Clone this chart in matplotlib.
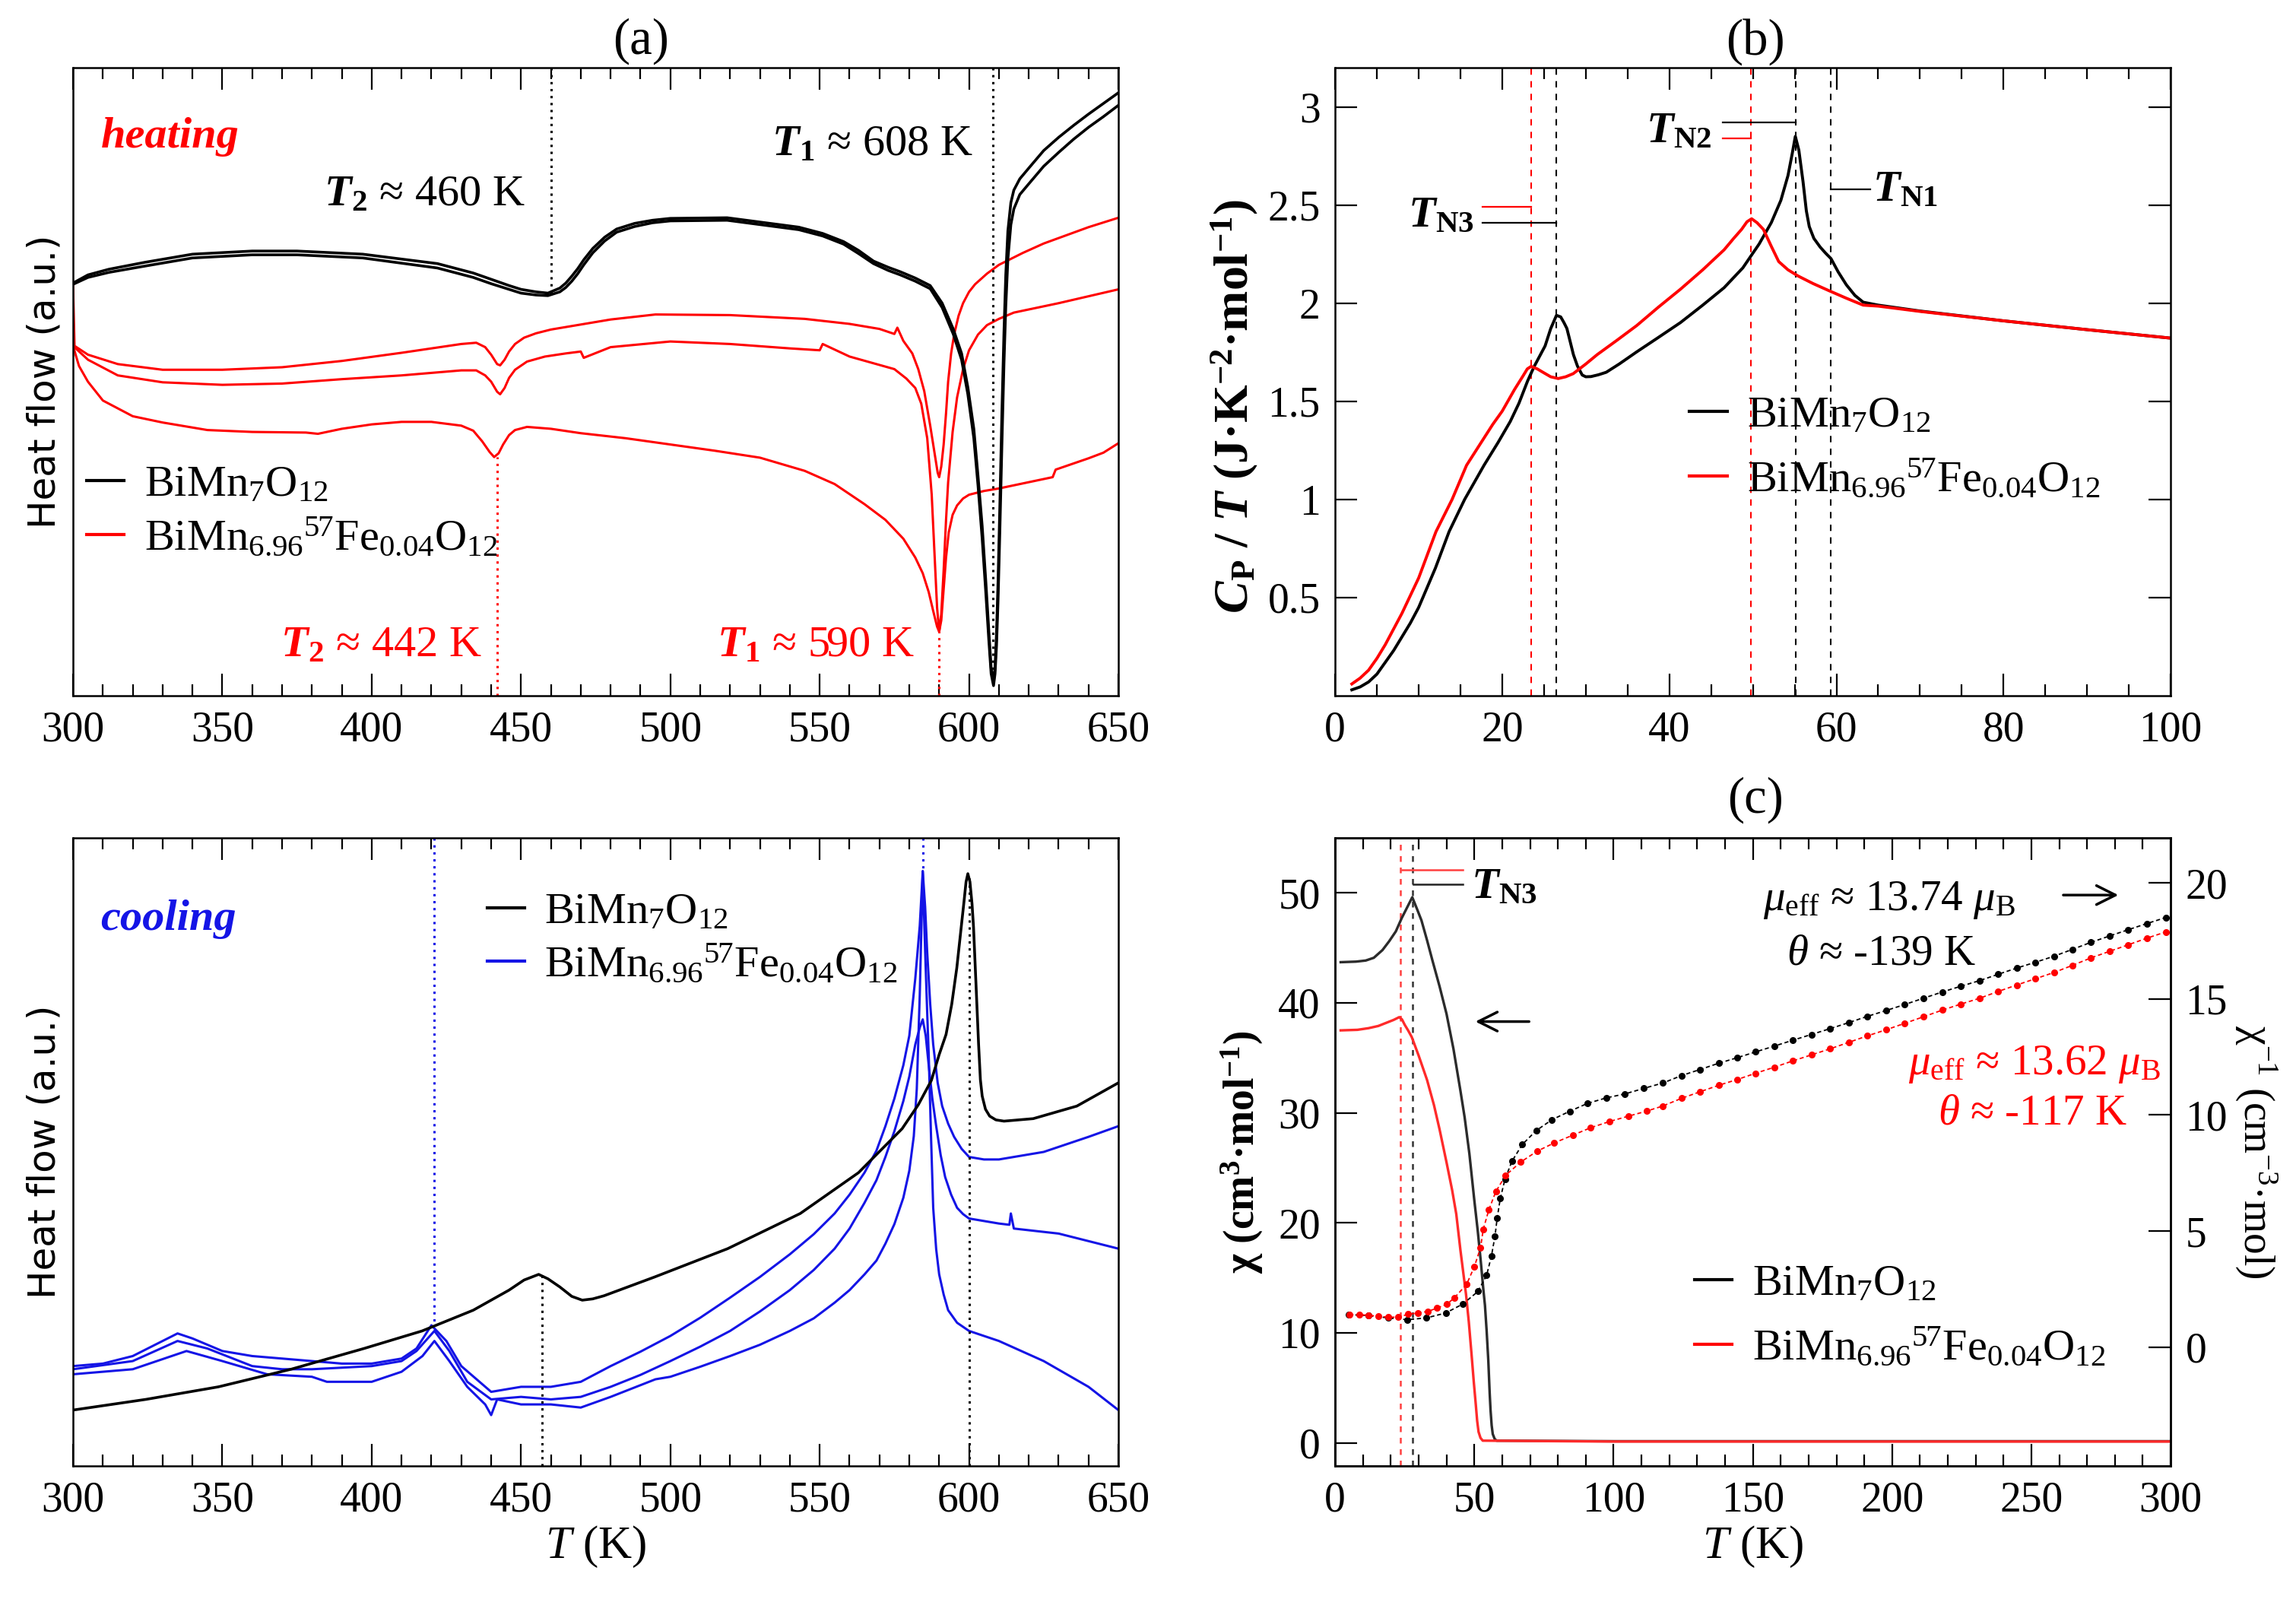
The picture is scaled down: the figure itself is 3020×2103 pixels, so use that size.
import matplotlib
matplotlib.use('Agg')
import matplotlib.pyplot as plt
from matplotlib.ticker import FixedLocator, MultipleLocator, NullLocator

rc = {
    'font.family': ['Liberation Serif', 'DejaVu Serif'],
    'mathtext.fontset': 'custom',
    'mathtext.rm': 'Liberation Serif',
    'mathtext.it': 'Liberation Serif:italic',
    'mathtext.bf': 'Liberation Serif:bold',
    'mathtext.default': 'rm',
    'axes.linewidth': 1.8,
}
plt.rcParams.update(rc)
try:
    plt.rcParams['mathtext.bfit'] = 'Liberation Serif:italic:bold'
except KeyError:
    pass

# ---------------- data: (a) heating DSC ----------------
T_a_blk = [300, 305, 312, 324, 340, 360, 375, 397, 422, 434, 440, 446, 450, 455, 459, 463, 465, 467,
           469, 471, 474, 478, 482, 488, 494, 500, 519, 543, 551, 558, 563, 568, 573, 577, 582, 587,
           591, 594.7, 597.5, 599.6, 601.6, 603, 604.4, 605.6, 606.6, 607.4, 608.2, 608.7, 609.2, 609.7,
           610.3, 611, 611.7, 612.3, 613, 614, 615, 617, 620, 625, 630, 635, 640, 645, 650]
hf_a_blk1 = [65.7, 67.0, 67.9, 69.0, 70.3, 70.8, 70.8, 70.3, 68.8, 67.3, 66.3, 65.3, 64.7, 64.3, 64.1,
             64.9, 65.7, 66.8, 68.0, 69.4, 71.2, 73.0, 74.3, 75.2, 75.7, 76.0, 76.1, 74.6, 73.6, 72.3,
             70.9, 69.2, 68.2, 67.5, 66.5, 65.3, 62.5, 58.4, 54.5, 49.1, 42.5, 35.0, 27.0, 18.3, 10.5,
             4.4, 2.1, 4.5, 10.0, 18.0, 30.0, 45.0, 58.0, 67.0, 74.0, 78.5, 80.5, 82.3, 84.0, 86.8,
             88.9, 90.8, 92.6, 94.3, 96.0]
hf_a_blk2 = [65.5, 66.6, 67.4, 68.4, 69.7, 70.2, 70.2, 69.7, 68.1, 66.6, 65.6, 64.7, 64.1, 63.8, 63.7,
             64.3, 65.0, 66.0, 67.2, 68.6, 70.5, 72.4, 73.8, 74.7, 75.3, 75.6, 75.7, 74.2, 73.2, 71.9,
             70.4, 68.8, 67.7, 67.0, 66.0, 64.8, 61.8, 57.6, 53.5, 48.0, 41.0, 33.5, 25.0, 16.5, 9.0,
             3.5, 1.6, 3.5, 8.0, 15.0, 26.0, 40.0, 53.0, 62.0, 69.5, 75.0, 77.5, 79.8, 81.5, 84.3, 86.5,
             88.6, 90.5, 92.2, 94.0]
T_a_red1 = [300, 300.5, 305, 315, 330, 350, 370, 390, 410, 430, 435, 438, 440, 442, 443, 444.5, 446,
            448, 451, 455, 460, 480, 495, 520, 545, 560, 570, 575, 576, 578, 581, 583, 585, 587, 588.5,
            589.5, 590, 590.7, 591.5, 592.3, 593, 594, 595, 596.5, 598, 600, 602, 606, 610, 618, 625,
            640, 650]
hf_a_red1 = [65.5, 55.7, 54.3, 52.8, 51.9, 51.9, 52.3, 53.3, 54.6, 56.0, 56.2, 55.5, 54.3, 52.8, 52.6,
             53.5, 54.8, 56.0, 57.0, 57.7, 58.3, 59.9, 60.7, 60.6, 60.0, 59.2, 58.4, 57.6, 58.6, 56.5,
             54.5, 52.0, 48.5, 43.0, 38.5, 35.5, 34.8, 36.5, 40.0, 45.0, 50.0, 54.5, 57.5, 60.5, 62.5,
             64.3, 65.5, 67.2, 68.6, 70.5, 72.0, 74.6, 76.1]
T_a_red2 = [300, 305, 315, 330, 350, 370, 390, 410, 430, 435, 438, 440, 442, 443, 444.5, 446, 448, 452,
            458, 465, 470, 471, 480, 500, 520, 540, 550, 551, 560, 575, 579, 582, 584, 586, 587.5, 588.5,
            589.3, 590, 590.7, 591.5, 592.3, 593, 594.5, 596, 598, 600, 603, 606, 610, 615, 630, 650]
hf_a_red2 = [55.7, 53.5, 51.0, 49.9, 49.5, 49.7, 50.4, 51.0, 51.8, 51.8, 51.0, 50.0, 48.4, 48.0, 49.0,
             50.6, 51.9, 53.2, 54.0, 54.5, 54.8, 53.8, 55.5, 56.4, 56.0, 55.3, 55.0, 56.0, 54.0, 52.0,
             50.5, 49.0, 46.5, 41.0, 32.0, 22.0, 14.0, 10.2, 13.0, 20.0, 28.0, 34.0, 42.0, 47.5, 52.0,
             55.0, 57.5, 59.0, 60.0, 61.0, 62.5, 64.7]
T_a_red3 = [300, 302, 305, 310, 320, 330, 345, 360, 378, 382, 390, 400, 410, 420, 430, 434, 437, 439.5,
            441, 442.5, 444, 446, 448, 452, 460, 470, 485, 500, 515, 530, 545, 555, 565, 572, 578, 582,
            584.5, 586.5, 588, 589.3, 590, 590.7, 591.5, 592.3, 593.2, 594.5, 596, 598, 600, 605, 610,
            620, 628, 629, 640, 645, 650]
hf_a_red3 = [55.7, 52.5, 50.0, 47.0, 44.5, 43.5, 42.3, 42.0, 41.9, 41.7, 42.5, 43.2, 43.6, 43.6, 43.0,
             42.2, 40.5, 38.8, 38.0, 38.6, 40.0, 41.5, 42.3, 42.8, 42.5, 41.8, 41.0, 40.0, 39.0, 37.9,
             35.8, 33.7, 30.5, 28.0, 25.0, 22.0, 19.5, 16.5, 13.5, 11.0, 10.2, 12.0, 17.0, 22.0, 26.0,
             28.8, 30.3, 31.4, 32.0, 32.6, 33.0, 34.0, 34.8, 36.0, 37.8, 38.7, 40.2]

# ---------------- data: (d) cooling DSC ----------------
T_d_blk = [300, 324.4, 348.7, 373, 397.4, 416.9, 434, 446, 451, 455.9, 459, 463, 467, 470.5, 474, 477.8,
           494.8, 519.2, 543.5, 563, 577.6, 583, 587.4, 590, 592.3, 594.2, 595.9, 597.2, 598.3, 599,
           599.6, 600.3, 601, 601.5, 602.3, 603.2, 603.8, 604.4, 605.5, 606.9, 609, 611.7, 621.5,
           636.1, 650]
hf_d_blk = [8.9, 10.6, 12.6, 15.4, 18.7, 21.5, 24.8, 28.0, 29.6, 30.5, 29.8, 28.5, 27.0, 26.4, 26.6,
            27.1, 30.1, 34.6, 40.2, 46.7, 53.7, 57.5, 61.4, 65.5, 68.7, 73.5, 79.3, 85.0, 89.8, 93.0,
            94.3, 93.0, 89.5, 85.8, 77.0, 67.1, 61.5, 58.9, 56.8, 55.7, 55.1, 54.9, 55.3, 57.3, 61.0]
T_d_blu1 = [300, 310, 320, 330, 335, 340, 350, 360, 370, 380, 390, 400, 410, 415, 420, 425, 430, 440,
            450, 460, 470, 480, 490, 500, 510, 520, 530, 540, 548, 555, 560, 565, 569, 572, 575, 578,
            580, 582, 583.5, 584.5, 585.3, 586, 587, 588, 589.5, 591, 593, 595, 597.5, 600, 605, 610,
            625, 640, 650]
hf_d_blu1 = [15.9, 16.3, 17.5, 19.9, 21.1, 20.3, 18.3, 17.5, 17.1, 16.7, 16.3, 16.3, 17.1, 18.7, 22.4,
             19.9, 15.9, 11.8, 12.6, 12.6, 13.4, 15.9, 18.2, 20.7, 23.6, 26.8, 30.1, 33.7, 36.9, 40.2,
             43.2, 46.7, 50.2, 54.1, 58.5, 63.8, 68.5, 77.6, 86.0, 94.7, 89.0, 81.7, 73.5, 67.1, 61.0,
             57.3, 54.5, 52.4, 50.5, 49.2, 48.8, 48.8, 50.0, 52.4, 54.1]
T_d_blu2 = [300, 320, 335, 345, 360, 370, 380, 400, 410, 415, 421, 426, 432, 440, 450, 460, 470, 480,
            490, 500, 510, 520, 530, 540, 548, 555, 560, 565, 569, 572, 575, 578, 580, 582, 583.5, 584.5,
            585.5, 586.5, 587.7, 589, 590.5, 592, 594, 596, 598, 600, 610, 613.5, 614, 615, 630, 650]
hf_d_blu2 = [15.4, 16.7, 19.9, 18.7, 15.9, 15.4, 15.4, 15.9, 16.7, 18.3, 21.5, 18.3, 13.4, 10.6, 11.0,
             10.6, 11.0, 12.6, 14.5, 16.7, 19.0, 21.5, 24.6, 28.0, 31.2, 34.6, 37.8, 41.9, 45.5, 49.2,
             53.3, 58.1, 62.0, 67.1, 69.8, 71.1, 68.5, 63.8, 58.5, 54.1, 49.5, 46.0, 43.2, 41.1, 40.1,
             39.4, 38.6, 38.4, 40.2, 37.8, 37.0, 34.6]
T_d_blu3 = [300, 320, 338, 350, 365, 380, 385, 400, 410, 417, 421, 426, 432, 438, 440, 442, 450, 460,
            470, 480, 495, 500, 510, 520, 530, 540, 548, 555, 560, 565, 569, 572, 575, 578, 580, 581.5,
            582.5, 583.5, 584.5, 585.3, 586, 586.5, 587.3, 588, 589, 590, 591.5, 593, 596, 600, 610, 625,
            640, 650]
hf_d_blu3 = [14.6, 15.4, 18.3, 16.7, 14.6, 14.2, 13.4, 13.4, 15.0, 17.5, 19.9, 16.7, 12.6, 9.8, 8.1,
             10.6, 9.8, 9.8, 9.3, 11.0, 13.8, 14.2, 15.8, 17.5, 19.3, 21.5, 23.5, 26.0, 28.0, 30.5, 32.7,
             35.4, 38.5, 42.7, 47.0, 52.5, 60.0, 75.0, 94.7, 82.0, 72.0, 65.4, 52.0, 41.1, 34.5, 30.5,
             27.3, 24.8, 22.8, 21.5, 19.9, 16.7, 12.6, 8.9]

# ---------------- data: (b) specific heat ----------------
T_b_blk = [2, 3, 4, 5, 6, 7, 8, 9, 10, 12, 13.64, 15.5, 17.82, 19.5, 20.96, 22, 23.04, 23.83, 25.13,
           25.8, 26.49, 27.0, 27.4, 27.74, 28.1, 28.52, 29.0, 29.57, 30.0, 30.62, 31.5, 32.45, 34, 36.1,
           38.5, 41.33, 44, 46.56, 48.8, 50.74, 52.2, 53.35, 54.2, 54.7, 55.08, 55.5, 56.0, 56.4, 56.75,
           57.3, 58.05, 58.7, 59.35, 60.2, 61.18, 62.2, 63.2, 65, 70, 80, 90, 100]
cp_b_blk = [0.03, 0.045, 0.07, 0.11, 0.17, 0.23, 0.30, 0.37, 0.45, 0.65, 0.836, 1.0, 1.174, 1.29, 1.397,
            1.49, 1.604, 1.678, 1.782, 1.87, 1.938, 1.93, 1.90, 1.871, 1.81, 1.738, 1.68, 1.634, 1.625,
            1.626, 1.635, 1.648, 1.69, 1.752, 1.82, 1.901, 1.99, 2.079, 2.18, 2.301, 2.41, 2.524, 2.65,
            2.76, 2.85, 2.78, 2.62, 2.47, 2.39, 2.33, 2.286, 2.255, 2.227, 2.16, 2.094, 2.04, 2.005,
            1.99, 1.96, 1.91, 1.865, 1.822]
T_b_red = [2, 3, 4, 5, 6, 7, 8, 9, 10, 12.07, 14, 15.73, 18.86, 20, 21.47, 22.5, 23.0, 23.46, 24.2,
           24.87, 25.8, 26.7, 27.6, 28.5, 30, 31.37, 33.7, 36.1, 38.7, 41.33, 44, 46.56, 47.7, 48.65,
           49.3, 49.85, 50.5, 51.26, 52.2, 53.09, 54.2, 55.43, 57.2, 59.09, 61.2, 63.2, 65, 70, 80, 90,
           100]
cp_b_red = [0.06, 0.09, 0.13, 0.19, 0.26, 0.34, 0.42, 0.51, 0.60, 0.836, 1.0, 1.174, 1.382, 1.45, 1.56,
            1.63, 1.665, 1.678, 1.665, 1.648, 1.625, 1.616, 1.625, 1.641, 1.69, 1.738, 1.81, 1.886, 1.98,
            2.071, 2.17, 2.272, 2.33, 2.376, 2.415, 2.43, 2.41, 2.376, 2.29, 2.212, 2.17, 2.138, 2.10,
            2.064, 2.025, 1.99, 1.985, 1.958, 1.91, 1.865, 1.822]
TN_blk_b = [26.5, 55.1, 59.3]
TN_red_b = [23.5, 49.8]

# ---------------- data: (c) susceptibility ----------------
T_c_blk = [2, 7.5, 11, 13.9, 17, 19.4, 21.8, 23.9, 25.9, 27.7, 29.3, 31, 33, 35, 37.5, 40, 42.5, 45,
           46.5, 48.2, 50, 51.2, 52.3, 53.2, 53.8, 54.4, 55, 55.5, 55.8, 56.2, 56.6, 57.3, 58, 100, 200,
           300]
chi_c_blk = [43.7, 43.75, 43.85, 44.1, 44.8, 45.6, 46.5, 47.7, 48.7, 49.6, 48.6, 47.5, 45.7, 43.8, 41.5,
             39.0, 35.8, 32.0, 29.6, 26.3, 22.0, 19.3, 16.5, 14.0, 12.5, 10.2, 7.5, 4.5, 3.0, 1.6, 0.8,
             0.35, 0.2, 0.15, 0.15, 0.15]
T_c_red = [2, 8, 12, 15.5, 18.5, 21, 23, 24, 25, 26.2, 27.5, 30, 33, 35.5, 37.5, 40, 42, 43.5, 45, 46,
           47, 48, 49, 49.8, 50.5, 51, 51.5, 52.2, 53, 100, 200, 300]
chi_c_red = [37.5, 37.55, 37.7, 37.9, 38.2, 38.45, 38.7, 38.5, 38.0, 37.5, 36.9, 35.2, 33.0, 30.7, 28.5,
             25.5, 23.0, 20.8, 17.5, 15.5, 13.5, 11.0, 8.0, 5.5, 3.5, 2.0, 1.0, 0.45, 0.2, 0.12, 0.12,
             0.12]
T_inv_blk = [4.8, 11.9, 19.0, 25.9, 32.8, 39.7, 45.9, 51.3, 54.4, 56.1, 57.4, 58.2, 59.3, 61.0, 63.5,
             67.2, 72.2, 77.9, 84.2, 90.6, 97.4, 104.1, 110.9, 117.7, 124.4, 131.0, 137.7, 144.4, 151.0,
             157.7, 164.3, 171.0, 177.7, 184.4, 191.1, 197.8, 204.5, 211.2, 218.0, 224.7, 231.4, 238.0,
             244.7, 251.4, 258.1, 264.8, 271.4, 278.0, 284.7, 291.5, 298.3]
inv_blk = [1.40, 1.36, 1.26, 1.18, 1.26, 1.47, 1.86, 2.40, 3.10, 3.91, 4.78, 5.57, 6.40, 7.24, 8.01,
           8.73, 9.33, 9.80, 10.16, 10.50, 10.74, 10.91, 11.15, 11.38, 11.70, 11.96, 12.23, 12.47, 12.72,
           12.97, 13.22, 13.47, 13.72, 13.98, 14.25, 14.50, 14.76, 15.03, 15.30, 15.55, 15.79, 16.06,
           16.33, 16.58, 16.84, 17.14, 17.44, 17.71, 17.98, 18.25, 18.51]
T_inv_red = [5.1, 8.6, 12.1, 15.5, 19.0, 22.6, 26.3, 29.8, 33.3, 36.6, 40.1, 42.7, 47.2, 50.0, 52.2,
             53.2, 55.2, 57.7, 61.2, 66.6, 72.5, 78.7, 85.3, 91.7, 98.5, 105.3, 111.9, 117.7, 124.4,
             131.0, 137.7, 144.4, 151.0, 157.7, 164.3, 171.0, 177.7, 184.4, 191.1, 197.8, 204.5, 211.2,
             218.0, 224.7, 231.4, 238.0, 244.7, 251.4, 258.1, 264.8, 271.4, 278.0, 284.7, 291.5, 298.3]
inv_red = [1.40, 1.40, 1.37, 1.33, 1.29, 1.29, 1.42, 1.47, 1.54, 1.68, 1.85, 2.11, 2.70, 3.47, 4.28,
           5.08, 5.92, 6.70, 7.40, 7.97, 8.44, 8.80, 9.13, 9.45, 9.72, 9.95, 10.17, 10.39, 10.72, 11.00,
           11.28, 11.53, 11.80, 12.06, 12.33, 12.59, 12.85, 13.13, 13.41, 13.67, 13.95, 14.23, 14.52,
           14.78, 15.03, 15.32, 15.60, 15.87, 16.14, 16.45, 16.77, 17.05, 17.33, 17.62, 17.89]
TN3_blk_c = 27.8
TN3_red_c = 23.5

# tick labels
xt_dsc = [300, 350, 400, 450, 500, 550, 600, 650]
xt_b = [0, 20, 40, 60, 80, 100]
yt_b = [0.5, 1, 1.5, 2, 2.5, 3]
yt_b_lab = ['0.5', '1', '1.5', '2', '2.5', '3']
xt_c = [0, 50, 100, 150, 200, 250, 300]
yt_c = [0, 10, 20, 30, 40, 50]
yt_c2 = [0, 5, 10, 15, 20]

lab1 = r'BiMn$_{7}$O$_{12}$'
lab2 = r'BiMn$_{6.96}$$^{57}$Fe$_{0.04}$O$_{12}$'

RED = '#ff0000'
BLUE = '#1414e6'
TICK_FS = 40
LEG_FS = 42
ANN_FS = 42
TITLE_FS = 48

fig = plt.figure(figsize=(30.2, 21.03), dpi=100)
ax_a = fig.add_axes([0.0318, 0.5649, 0.4553, 0.3928])
ax_b = fig.add_axes([0.5815, 0.5649, 0.3639, 0.3928])
ax_d = fig.add_axes([0.0318, 0.0832, 0.4553, 0.3928])
ax_c = fig.add_axes([0.5815, 0.0832, 0.3639, 0.3928])


def style(ax, left=True, right=True):
    ax.tick_params(which='both', direction='in', top=True, bottom=True, left=left, right=right,
                   labelsize=TICK_FS, width=1.6)
    ax.tick_params(which='major', length=21, pad=14)
    ax.tick_params(which='minor', length=11)


# ---- (a)
for y in (hf_a_blk1, hf_a_blk2):
    ax_a.plot(T_a_blk, y, color='k', lw=2.6, zorder=3)
ax_a.plot(T_a_red1, hf_a_red1, color=RED, lw=2.2)
ax_a.plot(T_a_red2, hf_a_red2, color=RED, lw=2.2)
ax_a.plot(T_a_red3, hf_a_red3, color=RED, lw=2.2)
ax_a.plot([460, 460], [100, 64.1], color='k', lw=2.2, ls=(0, (1, 2)))
ax_a.plot([608, 608], [100, 2.1], color='k', lw=2.2, ls=(0, (1, 2)))
ax_a.plot([442, 442], [0, 38.0], color=RED, lw=2.2, ls=(0, (1, 2)))
ax_a.plot([590, 590], [0, 10.2], color=RED, lw=2.2, ls=(0, (1, 2)))
ax_a.set_xlim(300, 650)
ax_a.set_ylim(0, 100)
ax_a.xaxis.set_major_locator(FixedLocator(xt_dsc))
ax_a.xaxis.set_minor_locator(MultipleLocator(10))
ax_a.yaxis.set_major_locator(NullLocator())
style(ax_a)
ax_a.set_ylabel('Heat flow (a.u.)', family='DejaVu Sans', fontsize=36, labelpad=10)
ax_a.text(309.3, 87.3, 'heating', color=RED, fontsize=ANN_FS, fontweight='bold', style='italic')
ax_a.text(384, 78.0, r'$\mathbfit{T}_{\mathbf{2}}$ ≈ 460 K', fontsize=ANN_FS)
ax_a.text(533.8, 86.1, r'$\mathbfit{T}_{\mathbf{1}}$ ≈ 608 K', fontsize=ANN_FS)
ax_a.text(369.4, 6.3, r'$\mathbfit{T}_{\mathbf{2}}$ ≈ 442 K', fontsize=ANN_FS, color=RED)
ax_a.text(515.5, 6.3, r'$\mathbfit{T}_{\mathbf{1}}$ ≈ 590 K', fontsize=ANN_FS, color=RED)
ha1, = ax_a.plot([], [], color='k', lw=3)
ha2, = ax_a.plot([], [], color=RED, lw=3)
ax_a.legend([ha1, ha2], [lab1, lab2], loc='center left', bbox_to_anchor=(0.013, 0.2925),
            frameon=False, fontsize=LEG_FS, handlelength=0.85, handletextpad=0.45,
            borderaxespad=0, borderpad=0, labelspacing=0.25)

# ---- (d)
ax_d.plot(T_d_blu1, hf_d_blu1, color=BLUE, lw=2.2)
ax_d.plot(T_d_blu2, hf_d_blu2, color=BLUE, lw=2.2)
ax_d.plot(T_d_blu3, hf_d_blu3, color=BLUE, lw=2.2)
ax_d.plot(T_d_blk, hf_d_blk, color='k', lw=2.6)
ax_d.plot([421, 421], [100, 22.4], color=BLUE, lw=2.2, ls=(0, (1, 2)))
ax_d.plot([584.5, 584.5], [100, 94.7], color=BLUE, lw=2.2, ls=(0, (1, 2)))
ax_d.plot([457, 457], [0, 30.5], color='k', lw=2.2, ls=(0, (1, 2)))
ax_d.plot([600, 600], [0, 94.3], color='k', lw=2.2, ls=(0, (1, 2)))
ax_d.set_xlim(300, 650)
ax_d.set_ylim(0, 100)
ax_d.xaxis.set_major_locator(FixedLocator(xt_dsc))
ax_d.xaxis.set_minor_locator(MultipleLocator(10))
ax_d.yaxis.set_major_locator(NullLocator())
style(ax_d)
ax_d.set_ylabel('Heat flow (a.u.)', family='DejaVu Sans', fontsize=36, labelpad=10)
ax_d.set_xlabel(r'$\mathit{T}$ (K)', fontsize=ANN_FS + 2, labelpad=4)
ax_d.text(309.3, 85.4, 'cooling', color=BLUE, fontsize=ANN_FS, fontweight='bold', style='italic')
hd1, = ax_d.plot([], [], color='k', lw=3)
hd2, = ax_d.plot([], [], color=BLUE, lw=3)
ax_d.legend([hd1, hd2], [lab1, lab2], loc='center left', bbox_to_anchor=(0.396, 0.839),
            frameon=False, fontsize=LEG_FS, handlelength=0.85, handletextpad=0.45,
            borderaxespad=0, borderpad=0, labelspacing=0.25)

# ---- (b)
for t in TN_red_b:
    ax_b.axvline(t, color=RED, lw=1.5, ls=(0, (4, 4)))
for t in TN_blk_b:
    ax_b.axvline(t, color='k', lw=1.5, ls=(0, (4, 4)))
ax_b.plot(T_b_blk, cp_b_blk, color='k', lw=2.8)
ax_b.plot(T_b_red, cp_b_red, color=RED, lw=2.8)
ax_b.plot([17.6, TN_red_b[0]], [2.49, 2.49], color=RED, lw=1.6)
ax_b.plot([17.6, TN_blk_b[0]], [2.41, 2.41], color='k', lw=1.6)
ax_b.plot([46.4, TN_blk_b[1]], [2.92, 2.92], color='k', lw=1.6)
ax_b.plot([46.4, TN_red_b[1]], [2.84, 2.84], color=RED, lw=1.6)
ax_b.plot([TN_blk_b[2], 64.05], [2.58, 2.58], color='k', lw=1.6)
ax_b.text(16.6, 2.388, r'$\mathbfit{T}_{\mathbf{N3}}$', fontsize=ANN_FS, ha='right')
ax_b.text(45.1, 2.82, r'$\mathbfit{T}_{\mathbf{N2}}$', fontsize=ANN_FS, ha='right')
ax_b.text(64.3, 2.523, r'$\mathbfit{T}_{\mathbf{N1}}$', fontsize=ANN_FS, ha='left')
ax_b.set_xlim(0, 100)
ax_b.set_ylim(0, 3.2)
ax_b.xaxis.set_major_locator(FixedLocator(xt_b))
ax_b.xaxis.set_minor_locator(MultipleLocator(5))
ax_b.set_yticks(yt_b)
ax_b.set_yticklabels(yt_b_lab)
style(ax_b)
ax_b.set_ylabel(r'$\mathbfit{C}_{\mathbf{P}}$ / $\mathbfit{T}$ (J·K$^{\mathbf{-2}}$·mol$^{\mathbf{-1}}$)',
                fontsize=46, fontweight='bold', labelpad=10)
ax_b.yaxis.set_label_coords(-0.09, 0.46)
hb1, = ax_b.plot([], [], color='k', lw=3)
hb2, = ax_b.plot([], [], color=RED, lw=3)
ax_b.legend([hb1, hb2], [lab1, lab2], loc='center left', bbox_to_anchor=(0.424, 0.3945),
            frameon=False, fontsize=LEG_FS, handlelength=0.85, handletextpad=0.45,
            borderaxespad=0, borderpad=0, labelspacing=0.5)

# ---- (c)
ax_c2 = ax_c.twinx()
ax_c.axvline(TN3_red_c, color='#ff4040', lw=1.8, ls=(0, (3, 3)))
ax_c.axvline(TN3_blk_c, color='#333333', lw=1.8, ls=(0, (3, 3)))
ax_c.plot(T_c_blk, chi_c_blk, color='#2b2b2b', lw=2.4)
ax_c.plot(T_c_red, chi_c_red, color='#ff2a2a', lw=2.4)
ax_c2.plot(T_inv_blk, inv_blk, color='k', lw=1.3, ls=(0, (3, 2)), marker='o', ms=5.5)
ax_c2.plot(T_inv_red, inv_red, color=RED, lw=1.3, ls=(0, (3, 2)), marker='o', ms=5.5)
ax_c.plot([23.9, 45.7], [52.1, 52.1], color='#ff4040', lw=1.8)
ax_c.plot([28.0, 45.7], [50.75, 50.75], color='#222222', lw=1.8)
ax_c.text(48.9, 49.55, r'$\mathbfit{T}_{\mathbf{N3}}$', fontsize=ANN_FS)
ax_c.annotate('', xy=(49.6, 38.3), xytext=(70.4, 38.3),
              arrowprops=dict(arrowstyle='->', lw=2.5, color='k', mutation_scale=45))
ax_c.annotate('', xy=(282, 49.8), xytext=(260.7, 49.8),
              arrowprops=dict(arrowstyle='->', lw=2.5, color='k', mutation_scale=45))
ax_c.text(153.6, 48.4, r'$\mathit{\mu}_{\rm eff}$ ≈ 13.74 $\mathit{\mu}_{\rm B}$', fontsize=41)
ax_c.text(162.2, 43.5, r'$\mathit{\theta}$ ≈ -139 K', fontsize=41)
ax_c.text(205.7, 33.5, r'$\mathit{\mu}_{\rm eff}$ ≈ 13.62 $\mathit{\mu}_{\rm B}$', fontsize=41, color=RED)
ax_c.text(216.4, 29.0, r'$\mathit{\theta}$ ≈ -117 K', fontsize=41, color=RED)
ax_c.set_xlim(0, 300)
ax_c.set_ylim(-2.1, 55)
ax_c2.set_ylim(-5.12, 21.94)
ax_c.xaxis.set_major_locator(FixedLocator(xt_c))
ax_c.xaxis.set_minor_locator(MultipleLocator(10))
ax_c.yaxis.set_major_locator(FixedLocator(yt_c))
ax_c2.yaxis.set_major_locator(FixedLocator(yt_c2))
style(ax_c, left=True, right=False)
ax_c2.tick_params(which='both', direction='in', left=False, right=True, top=False, bottom=False,
                  labelsize=TICK_FS, width=1.6, length=21, pad=14)
ax_c.set_xlabel(r'$\mathit{T}$ (K)', fontsize=ANN_FS + 2, labelpad=4)
ax_c.set_ylabel(r'χ (cm$^{\mathbf{3}}$·mol$^{\mathbf{-1}}$)', fontsize=40, fontweight='bold', labelpad=12)
ax_c2.set_ylabel(r'χ$^{-1}$ (cm$^{-3}$·mol)', fontsize=40, rotation=270, labelpad=48)
hc1, = ax_c.plot([], [], color='k', lw=3)
hc2, = ax_c.plot([], [], color=RED, lw=3)
ax_c.legend([hc1, hc2], [lab1, lab2], loc='center left', bbox_to_anchor=(0.43, 0.238),
            frameon=False, fontsize=LEG_FS, handlelength=0.85, handletextpad=0.45,
            borderaxespad=0, borderpad=0, labelspacing=0.5)

fig.text(0.279, 0.974, '(a)', fontsize=TITLE_FS, ha='center', va='center')
fig.text(0.7646, 0.974, '(b)', fontsize=TITLE_FS, ha='center', va='center')
fig.text(0.7646, 0.4998, '(c)', fontsize=TITLE_FS, ha='center', va='center')

fig.savefig('out.png', dpi=100)
